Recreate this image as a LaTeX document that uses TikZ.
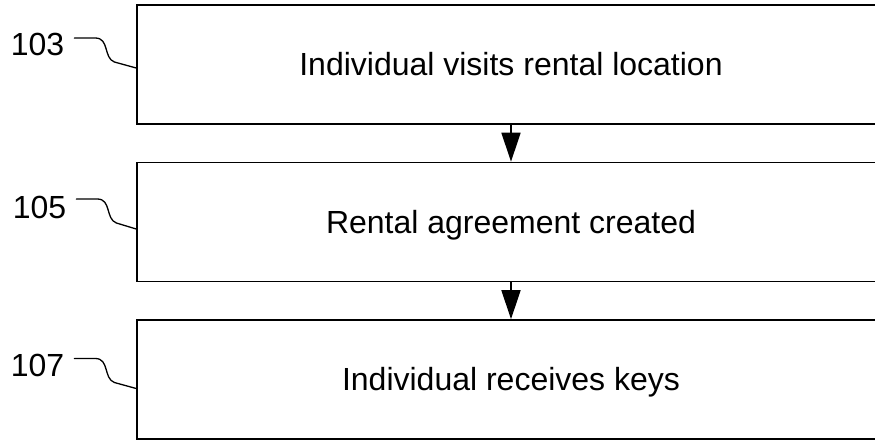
\documentclass[tikz,border=0pt]{standalone}
\usepackage{fontspec}
\setmainfont{Liberation Sans}
\usetikzlibrary{arrows.meta,calc}
\tikzset{
  stepbox/.style={draw=black,line width=1.6pt,minimum width=748pt,minimum height=119pt,
    inner sep=0pt,font=\fontsize{32}{38}\selectfont,text height=22.9pt,text depth=0pt},
  reflabel/.style={inner sep=0pt,font=\fontsize{32}{38}\selectfont,text height=22.9pt,text depth=0pt},
  lead/.style={line width=1.3pt,line join=round,line cap=round},
  arr/.style={line width=1.6pt,-{Triangle[length=29pt,width=19pt]}}
}
\begin{document}
\begin{tikzpicture}[x=1pt,y=-1pt]
\clip (0,0) rectangle (875,440);
\node[stepbox] (b1) at (511,64.5) {Individual visits rental location};
\node[stepbox] (b2) at (511,222) {Rental agreement created};
\node[stepbox] (b3) at (511,379.5) {Individual receives keys};
\draw[arr] (b1) -- (b2);
\draw[arr] (b2) -- (b3);
\node[reflabel] (l1) at (37.5,44) {103};
\node[reflabel] (l2) at (39.5,207) {105};
\node[reflabel] (l3) at (37.5,365.5) {107};
\foreach \l/\b/\dy in {l1/b1/-6,l2/b2/-8,l3/b3/-7}{
  \coordinate (s) at ($(\l.east)+(10,\dy)$);
  \draw[lead] (s) -- ++(21,0) .. controls +(14,0) and +(-11,-4) .. ++(19,24)
    -- ($(\b.west |- s)+(0,30)$);
}
\end{tikzpicture}
\end{document}
